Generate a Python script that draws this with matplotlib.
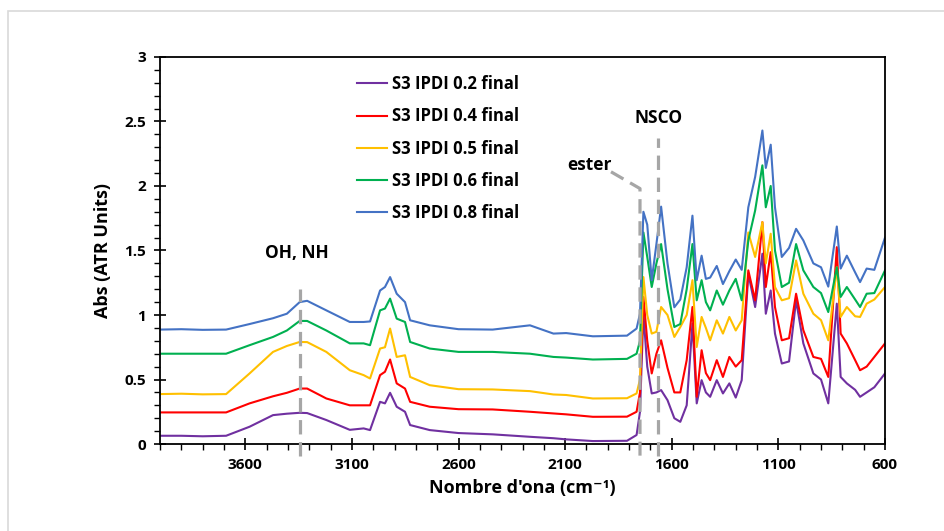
import matplotlib
matplotlib.use("Agg")
import matplotlib.pyplot as plt
from matplotlib.patches import Rectangle
from matplotlib.ticker import MultipleLocator

plt.rcParams['font.family'] = ['Open Sans', 'DejaVu Sans']
plt.rcParams['font.weight'] = 'bold'

# wavenumbers (cm-1) where the spectra were sampled
wavenumber = [
    4000, 3900, 3800, 3690, 3580, 3470, 3405, 3345, 3310, 3220, 3110,
    3045, 3015, 2968, 2945, 2921, 2890, 2851, 2827, 2735, 2600,
    2440, 2265, 2155, 2095, 1970, 1810, 1765,
    1749, 1733, 1715, 1694, 1672, 1650, 1620, 1588, 1560, 1530, 1503,
    1483, 1460, 1440, 1420, 1389, 1360, 1330, 1300, 1272, 1241, 1209,
    1175, 1159, 1136, 1116, 1084, 1050, 1017, 983, 936, 900, 866,
    826, 808, 779, 740, 717, 686, 650, 600,
]

abs_02 = [
    0.064, 0.064, 0.060, 0.064, 0.134, 0.224, 0.235, 0.242, 0.240, 0.186, 0.110,
    0.121, 0.108, 0.327, 0.315, 0.397, 0.289, 0.250, 0.147, 0.108, 0.085,
    0.075, 0.056, 0.045, 0.036, 0.023, 0.025, 0.070,
    0.250, 1.010, 0.600, 0.392, 0.400, 0.418, 0.340, 0.200, 0.172, 0.300, 0.933,
    0.315, 0.495, 0.400, 0.366, 0.495, 0.392, 0.470, 0.360, 0.495, 1.320, 1.062,
    1.475, 1.010, 1.190, 0.856, 0.624, 0.640, 1.114, 0.780, 0.547, 0.500, 0.315,
    1.088, 0.520, 0.470, 0.420, 0.366, 0.400, 0.440, 0.547,
]
abs_04 = [
    0.245, 0.245, 0.245, 0.245, 0.315, 0.370, 0.397, 0.430, 0.430, 0.353, 0.300,
    0.300, 0.300, 0.534, 0.560, 0.655, 0.470, 0.430, 0.327, 0.289, 0.270,
    0.268, 0.250, 0.237, 0.230, 0.211, 0.212, 0.250,
    0.400, 1.140, 0.800, 0.547, 0.700, 0.804, 0.590, 0.400, 0.400, 0.650, 1.062,
    0.366, 0.727, 0.550, 0.495, 0.650, 0.520, 0.675, 0.600, 0.650, 1.346, 1.114,
    1.720, 1.217, 1.487, 1.062, 0.804, 0.820, 1.165, 0.882, 0.675, 0.660, 0.520,
    1.526, 0.856, 0.780, 0.650, 0.572, 0.600, 0.675, 0.780,
]
abs_05 = [
    0.387, 0.390, 0.385, 0.387, 0.547, 0.714, 0.760, 0.791, 0.790, 0.714, 0.572,
    0.534, 0.508, 0.740, 0.750, 0.895, 0.675, 0.688, 0.520, 0.456, 0.425,
    0.423, 0.410, 0.384, 0.380, 0.353, 0.355, 0.392,
    0.500, 1.294, 1.000, 0.856, 0.870, 1.062, 1.000, 0.830, 0.907, 1.000, 1.270,
    0.752, 0.985, 0.900, 0.804, 0.959, 0.856, 0.985, 0.880, 0.959, 1.640, 1.450,
    1.720, 1.400, 1.630, 1.217, 1.114, 1.130, 1.423, 1.165, 1.010, 0.960, 0.804,
    1.370, 0.985, 1.062, 0.990, 0.985, 1.088, 1.120, 1.217,
]
abs_06 = [
    0.700, 0.700, 0.700, 0.700, 0.766, 0.830, 0.880, 0.954, 0.954, 0.880, 0.780,
    0.780, 0.766, 1.036, 1.050, 1.127, 0.972, 0.946, 0.791, 0.740, 0.714,
    0.714, 0.700, 0.675, 0.670, 0.655, 0.660, 0.700,
    0.800, 1.640, 1.450, 1.217, 1.400, 1.550, 1.200, 0.907, 0.930, 1.200, 1.550,
    1.114, 1.270, 1.100, 1.036, 1.190, 1.080, 1.190, 1.280, 1.114, 1.578, 1.810,
    2.160, 1.835, 2.000, 1.500, 1.217, 1.250, 1.550, 1.346, 1.217, 1.170, 1.023,
    1.370, 1.140, 1.217, 1.120, 1.062, 1.165, 1.170, 1.346,
]
abs_08 = [
    0.887, 0.890, 0.885, 0.887, 0.930, 0.975, 1.010, 1.100, 1.110, 1.036, 0.946,
    0.946, 0.950, 1.190, 1.217, 1.294, 1.165, 1.100, 0.959, 0.920, 0.890,
    0.887, 0.920, 0.856, 0.860, 0.835, 0.840, 0.895,
    1.010, 1.800, 1.700, 1.270, 1.550, 1.840, 1.400, 1.060, 1.120, 1.370, 1.770,
    1.270, 1.460, 1.280, 1.290, 1.380, 1.240, 1.340, 1.430, 1.350, 1.835, 2.070,
    2.430, 2.140, 2.320, 1.835, 1.450, 1.520, 1.668, 1.578, 1.400, 1.370, 1.220,
    1.686, 1.360, 1.460, 1.330, 1.255, 1.360, 1.350, 1.600,
]

series_labels = ["S3 IPDI 0.2 final", "S3 IPDI 0.4 final", "S3 IPDI 0.5 final",
                 "S3 IPDI 0.6 final", "S3 IPDI 0.8 final"]
series_colors = ["#7030A0", "#FF0000", "#FFC000", "#00B050", "#4472C4"]

# band assignments marked with dashed guides
band_labels = ["OH, NH", "ester", "NSCO"]
band_wn = [3345, 1749, 1663]

fig = plt.figure(figsize=(9.44, 5.31), dpi=100)
ax = fig.add_axes([0.1695, 0.1638, 0.768, 0.7289])

for ys, lab, col in zip([abs_02, abs_04, abs_05, abs_06, abs_08], series_labels, series_colors):
    ax.plot(wavenumber, ys, color=col, lw=1.5, label=lab, zorder=2)

ax.set_xlim(4000, 600)
ax.set_ylim(0, 3)
ax.set_xticks([3600, 3100, 2600, 2100, 1600, 1100, 600])
ax.xaxis.set_minor_locator(MultipleLocator(100))
ax.yaxis.set_minor_locator(MultipleLocator(0.1))
ax.set_yticks([0, 0.5, 1, 1.5, 2, 2.5, 3])
ax.set_yticklabels(["0", "0.5", "1", "1.5", "2", "2.5", "3"])
ax.tick_params(which='major', direction='inout', length=8, width=1.2, labelsize=11, pad=6)
ax.tick_params(which='minor', direction='out', length=4, width=1.0)
for s in ax.spines.values():
    s.set_linewidth(1.3)

ax.set_xlabel("Nombre d'ona (cm⁻¹)", fontsize=13, fontweight='bold', labelpad=5)
ax.set_ylabel("Abs (ATR Units)", fontsize=13, fontweight='bold', labelpad=9)

guide = dict(color="#A6A6A6", lw=2.3, linestyle=(0, (4.5, 2.4)), clip_on=False, zorder=3)
# OH, NH
ax.plot([band_wn[0], band_wn[0]], [-0.09, 1.2], **guide)
ax.text(band_wn[0] + 15, 1.48, band_labels[0], ha='center', va='center', fontsize=12.5, fontweight='bold')
# ester (bent leader)
ax.plot([1885, band_wn[1], band_wn[1]], [2.11, 1.98, -0.09], **guide)
ax.text(1880, 2.16, band_labels[1], ha='right', va='center', fontsize=12.5, fontweight='bold')
# NSCO
ax.plot([band_wn[2], band_wn[2]], [-0.09, 2.37], **guide)
ax.text(band_wn[2], 2.53, band_labels[2], ha='center', va='center', fontsize=12.5, fontweight='bold')

ax.legend(loc='upper left', bbox_to_anchor=(0.262, 0.97), frameon=False,
          handlelength=1.8, handletextpad=0.3, labelspacing=0.85,
          borderaxespad=0, prop={'weight': 'bold', 'size': 12})

# thin outer frame of the chart area
fig.patches.append(Rectangle((8 / 944, -0.1), 1.2, (531 - 11) / 531 + 0.1,
                             transform=fig.transFigure, fill=False,
                             edgecolor="#D9D9D9", lw=1.2))

fig.savefig("out.png", dpi=100)
